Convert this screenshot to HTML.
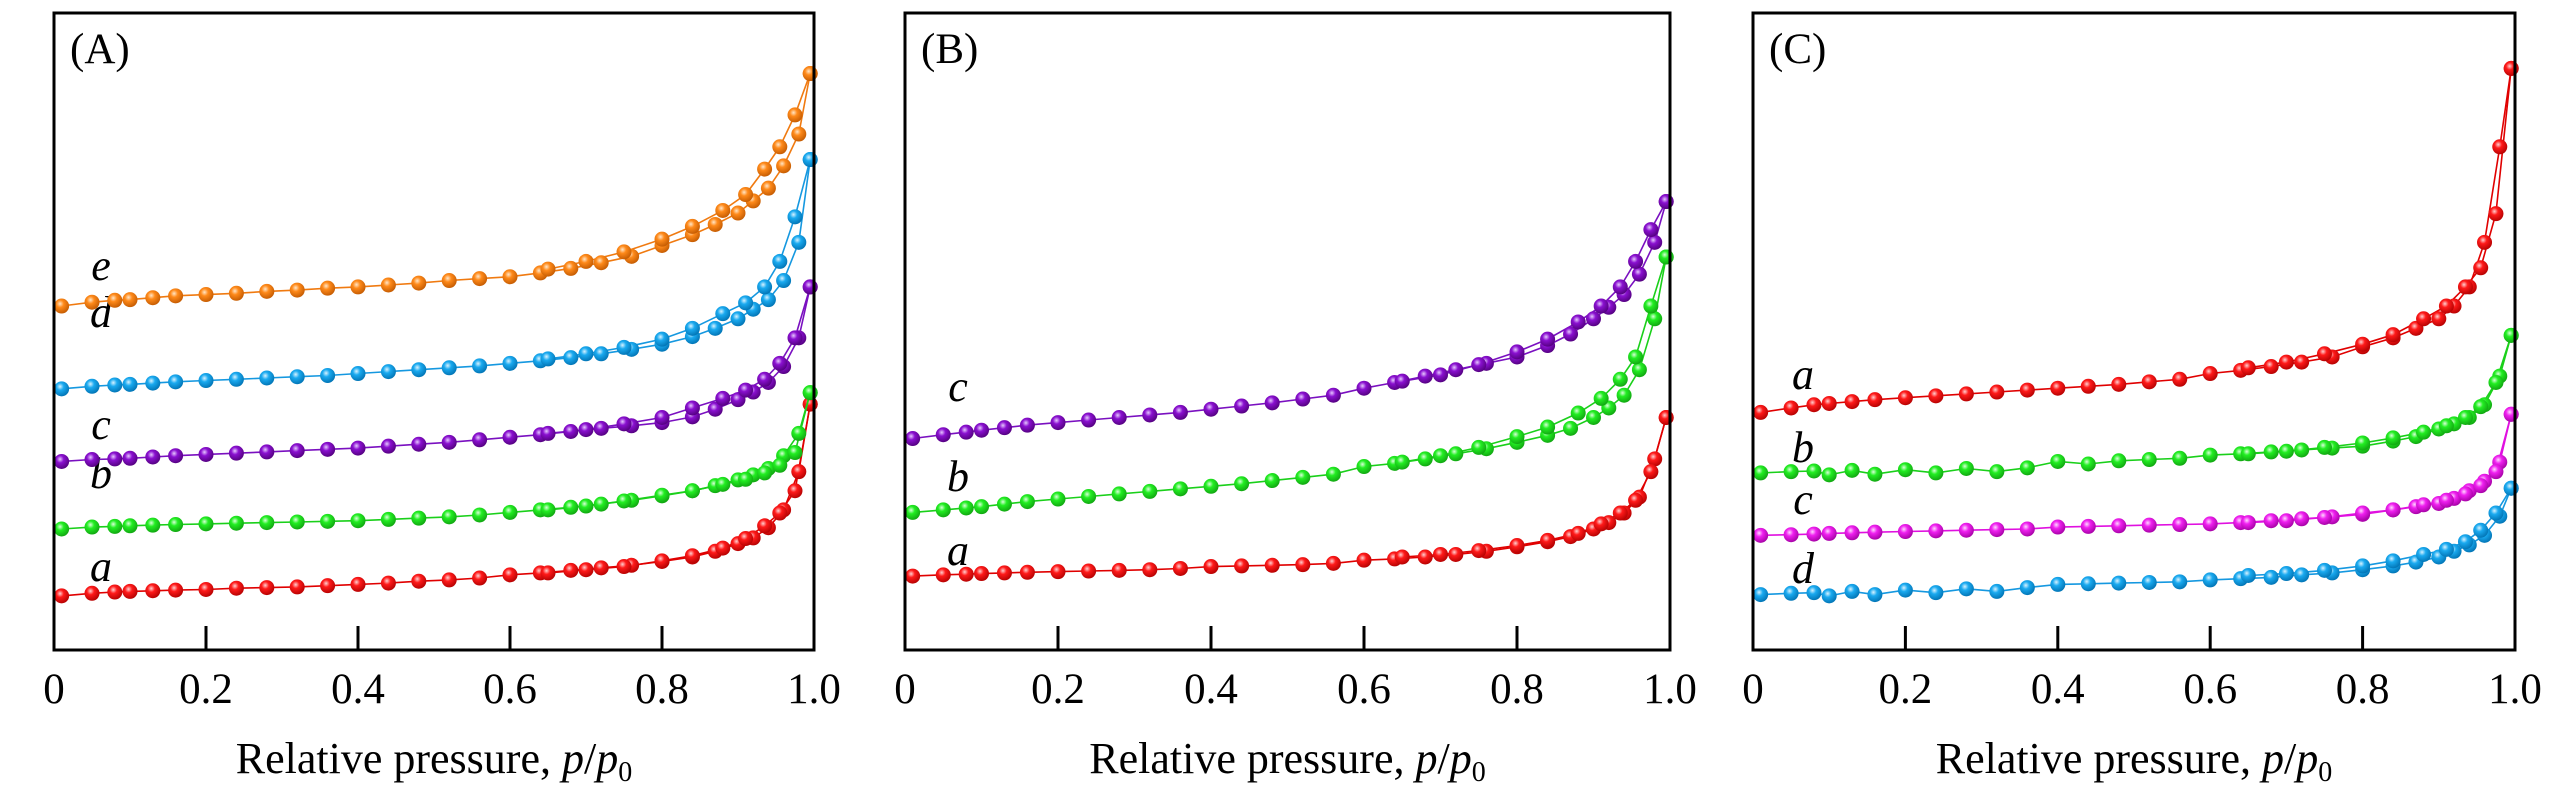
<!DOCTYPE html>
<html><head><meta charset="utf-8">
<style>
html,body{margin:0;padding:0;background:#fff;}
svg{display:block;font-family:"Liberation Serif",serif;}
</style></head>
<body>
<svg id="chart" width="2567" height="787" viewBox="0 0 2567 787" xmlns="http://www.w3.org/2000/svg">
<defs>
<radialGradient id="g-red" cx="0.4" cy="0.35" r="0.7"><stop offset="0" stop-color="#ffd0d0"/><stop offset="0.35" stop-color="#ff1a1a"/><stop offset="1" stop-color="#b00000"/></radialGradient>
<radialGradient id="g-green" cx="0.4" cy="0.35" r="0.7"><stop offset="0" stop-color="#d8ffd8"/><stop offset="0.35" stop-color="#22ee22"/><stop offset="1" stop-color="#10a010"/></radialGradient>
<radialGradient id="g-purple" cx="0.4" cy="0.35" r="0.7"><stop offset="0" stop-color="#e6c8ff"/><stop offset="0.35" stop-color="#8a10d0"/><stop offset="1" stop-color="#50007a"/></radialGradient>
<radialGradient id="g-blue" cx="0.4" cy="0.35" r="0.7"><stop offset="0" stop-color="#d8f2ff"/><stop offset="0.35" stop-color="#1aaaf0"/><stop offset="1" stop-color="#0070b0"/></radialGradient>
<radialGradient id="g-orange" cx="0.4" cy="0.35" r="0.7"><stop offset="0" stop-color="#ffe6c8"/><stop offset="0.35" stop-color="#ff8a1a"/><stop offset="1" stop-color="#c05800"/></radialGradient>
<radialGradient id="g-magenta" cx="0.4" cy="0.35" r="0.7"><stop offset="0" stop-color="#ffd8ff"/><stop offset="0.35" stop-color="#f020f0"/><stop offset="1" stop-color="#a000a0"/></radialGradient>
</defs>
</svg>
<script>
const adsX = [0.01,0.05,0.08,0.1,0.13,0.16,0.2,0.24,0.28,0.32,0.36,0.4,0.44,0.48,0.52,0.56,0.6,0.64,0.68,0.72,0.76,0.8,0.84,0.87,0.9,0.92,0.94,0.96,0.98,0.995];
const desX = [0.995,0.975,0.955,0.935,0.91,0.88,0.84,0.8,0.75,0.7,0.65];
const xTickValues = [0,0.2,0.4,0.6,0.8,1.0];
const xTickLabels = ["0","0.2","0.4","0.6","0.8","1.0"];
const panelLabels = ["(A)","(B)","(C)"];

const aA_ads = [8.5,8.9,9.1,9.2,9.3,9.4,9.5,9.7,9.8,9.9,10.1,10.3,10.5,10.8,11.0,11.3,11.8,12.1,12.5,12.9,13.3,13.9,14.6,15.5,16.7,17.6,19.2,22,28,38.6];
const aA_des = [38.6,25,21.5,19.5,17.5,16,14.8,14,13.1,12.6,12.1];
const bA_ads = [19,19.3,19.4,19.5,19.6,19.7,19.8,19.9,20,20.1,20.2,20.3,20.5,20.7,20.9,21.2,21.6,22,22.4,22.9,23.5,24.2,25,25.8,26.7,27.5,28.5,30.5,34,40.4];
const bA_des = [40.4,31,29,27.8,26.8,26,25,24.3,23.4,22.6,22];
const cA_ads = [29.6,29.9,30,30.1,30.3,30.5,30.7,30.9,31.1,31.3,31.5,31.7,32,32.3,32.6,33,33.4,33.8,34.3,34.8,35.2,35.7,36.6,37.8,39.3,40.5,42,44.5,49,57];
const cA_des = [57,49,45,42.5,40.8,39.5,38,36.5,35.5,34.6,34];
const dA_ads = [41,41.4,41.6,41.7,41.9,42.1,42.3,42.5,42.7,42.9,43.1,43.4,43.7,44,44.3,44.6,45,45.4,45.9,46.5,47.2,48,49.2,50.5,52,53.5,55,58,64,77];
const dA_des = [77,68,61,57,54.5,52.8,50.5,48.8,47.5,46.5,45.7];
const eA_ads = [54,54.6,54.9,55,55.3,55.6,55.8,56,56.3,56.5,56.8,57,57.3,57.6,58,58.3,58.6,59.2,59.9,60.8,61.8,63.5,65.2,66.8,68.6,70.5,72.5,76,81,90.5];
const eA_des = [90.5,84,79,75.5,71.5,69,66.5,64.5,62.5,61,59.8];

const aB_ads = [11.6,11.8,11.9,12,12.1,12.2,12.3,12.4,12.5,12.6,12.8,13.1,13.2,13.3,13.4,13.6,14.1,14.3,14.6,15,15.5,16.2,17,17.8,19,20,21.5,24,30,36.5];
const aB_des = [36.5,28,23.5,21.5,19.8,18.3,17.2,16.4,15.6,15,14.6];
const bB_ads = [21.6,22,22.3,22.5,22.9,23.3,23.7,24.1,24.5,24.9,25.3,25.7,26.1,26.6,27.1,27.6,28.8,29.3,30,30.8,31.6,32.6,33.7,34.8,36.5,38,40,44,52,61.7];
const bB_des = [61.7,54,46,42.5,39.5,37.2,35,33.5,31.8,30.5,29.5];
const cB_ads = [33.2,33.8,34.2,34.5,34.9,35.3,35.7,36.1,36.5,36.9,37.3,37.8,38.3,38.8,39.4,40,41.1,42,43,44,45,46,47.8,49.6,52,53.8,55.8,59,64,70.4];
const cB_des = [70.4,66,61,57,54,51.5,48.8,46.8,44.8,43.2,42.2];

const aC_ads = [37.3,38,38.5,38.7,39,39.3,39.6,39.9,40.2,40.5,40.8,41.1,41.4,41.7,42.1,42.5,43.4,43.9,44.5,45.2,46,47.6,49,50.5,52,54,57,64,79,91.3];
const aC_des = [91.3,68.5,60,57,54,52,49.5,48,46.5,45.2,44.3];
const bC_ads = [27.8,28,28.1,27.5,28.2,27.6,28.3,27.8,28.5,28,28.6,29.6,29.2,29.7,29.9,30.1,30.6,30.8,31.1,31.4,31.7,32,32.8,33.5,34.7,35.5,36.5,38.5,43,49.4];
const bC_des = [49.4,42,38.2,36.5,35.2,34.2,33.3,32.5,31.8,31.2,30.8];
const cC_ads = [18,18.1,18.2,18.3,18.4,18.5,18.6,18.7,18.8,18.9,19,19.3,19.4,19.5,19.6,19.7,19.8,20,20.3,20.6,20.9,21.3,22,22.5,23,23.8,25,26.5,29.5,37];
const cC_des = [37,28,25.8,24.5,23.5,22.8,22,21.5,20.8,20.3,20];
const dC_ads = [8.7,8.9,9,8.5,9.2,8.7,9.4,9,9.6,9.2,9.8,10.3,10.4,10.5,10.6,10.7,11,11.2,11.4,11.8,12.1,12.6,13.2,13.8,14.6,15.5,16.5,18,21,25.4];
const dC_des = [25.4,21.5,18.8,17,15.8,15,14,13.2,12.5,12,11.7];

const colors = {red:"#e00000",green:"#1ad01a",purple:"#7a10c0",blue:"#1598e0",orange:"#f07a10",magenta:"#e010e0"};

const panels = [
 {left:54,right:814,series:[
  {name:"a",c:"red",ads:aA_ads,des:aA_des,lx:101,ly:581},
  {name:"b",c:"green",ads:bA_ads,des:bA_des,lx:101,ly:488},
  {name:"c",c:"purple",ads:cA_ads,des:cA_des,lx:101,ly:439},
  {name:"d",c:"blue",ads:dA_ads,des:dA_des,lx:101,ly:327},
  {name:"e",c:"orange",ads:eA_ads,des:eA_des,lx:101,ly:280}]},
 {left:905,right:1670,series:[
  {name:"a",c:"red",ads:aB_ads,des:aB_des,lx:958,ly:565},
  {name:"b",c:"green",ads:bB_ads,des:bB_des,lx:958,ly:491},
  {name:"c",c:"purple",ads:cB_ads,des:cB_des,lx:958,ly:401}]},
 {left:1753,right:2515,series:[
  {name:"a",c:"red",ads:aC_ads,des:aC_des,lx:1803,ly:389},
  {name:"b",c:"green",ads:bC_ads,des:bC_des,lx:1803,ly:462},
  {name:"c",c:"magenta",ads:cC_ads,des:cC_des,lx:1803,ly:514},
  {name:"d",c:"blue",ads:dC_ads,des:dC_des,lx:1803,ly:583}]}
];
const TOP=13,BOT=650;
const svg=document.getElementById('chart');
const NS="http://www.w3.org/2000/svg";
function mk(tag,attrs,parent){const e=document.createElementNS(NS,tag);for(const k in attrs)e.setAttribute(k,attrs[k]);(parent||svg).appendChild(e);return e;}
const yScale=v=>BOT-(v/100)*(BOT-TOP);

panels.forEach((p,pi)=>{
 const xScale=v=>p.left+v*(p.right-p.left);
 const g=mk('g',{});
 
 
 p.series.forEach(s=>{
  const sg=mk('g',{},g);
  
  
  [[adsX,s.ads],[desX,s.des]].forEach(([xs,ys],bi)=>{
   const pts=xs.map((x,i)=>xScale(x).toFixed(1)+','+yScale(ys[i]).toFixed(1)).join(' ');
   const pl=mk('polyline',{points:pts,fill:'none',stroke:colors[s.c],'stroke-width':1.6},sg);
   
   
  });
  [[adsX,s.ads],[desX,s.des]].forEach(([xs,ys])=>{
   xs.forEach((x,i)=>{
    const c=mk('circle',{cx:xScale(x),cy:yScale(ys[i]),r:7.5,fill:'url(#g-'+s.c+')'},sg);
    
    
   });
  });
  const t=mk('text',{x:s.lx,y:s.ly,'font-size':44,'font-style':'italic','text-anchor':'middle'},g);
  t.textContent=s.name;
  
  
 });
 const fr=mk('rect',{x:p.left,y:TOP,width:p.right-p.left,height:BOT-TOP,fill:'none',stroke:'#000','stroke-width':3},g);
 
 
 xTickValues.forEach((v,i)=>{
  if(v>0&&v<1){
   const tk=mk('line',{x1:xScale(v),x2:xScale(v),y1:BOT,y2:BOT-24,stroke:'#000','stroke-width':3},g);
   
   
  }
  const tl=mk('text',{x:xScale(v),y:703,'font-size':43,'text-anchor':'middle'},g);
  tl.textContent=xTickLabels[i];
  
  
 });
 const pl=mk('text',{x:p.left+16,y:63,'font-size':43},g);
 pl.textContent=panelLabels[pi];
 
 
 const xt=mk('text',{x:(p.left+p.right)/2,y:773,'font-size':44,'text-anchor':'middle'},g);
 
 
 xt.innerHTML='Relative pressure, <tspan font-style="italic">p</tspan>/<tspan font-style="italic">p</tspan><tspan font-size="28" dy="8">0</tspan>';
});
</script>
</body></html>
